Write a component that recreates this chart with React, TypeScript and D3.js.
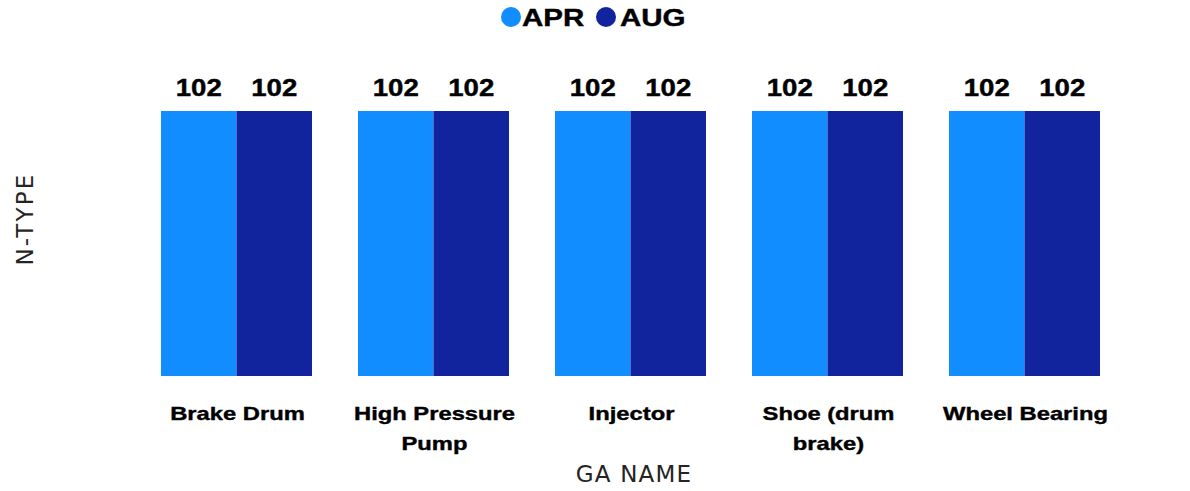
import React from 'react';
import * as d3 from 'd3';

const categories = ['Brake Drum', 'High Pressure Pump', 'Injector', 'Shoe (drum brake)', 'Wheel Bearing'];
const categoryLines = [['Brake Drum'], ['High Pressure', 'Pump'], ['Injector'], ['Shoe (drum', 'brake)'], ['Wheel Bearing']];
const series = ['APR', 'AUG'];
const aprValues = [102, 102, 102, 102, 102];
const augValues = [102, 102, 102, 102, 102];
const colors = ['#118DFF', '#12239E'];

const width = 1190;
const height = 491;
const boldFont = '"Liberation Sans", Arial, sans-serif';

// wide bold text: the original renders a stretched heavy face
const Wide: React.FC<{ x: number; y: number; size: number; sx?: number; anchor?: string; children: React.ReactNode }> =
    ({ x, y, size, sx = 1.23, anchor = 'middle', children }) => (
        <text transform={`translate(${x},${y}) scale(${sx},1)`} textAnchor={anchor}
            fontFamily={boldFont} fontWeight="bold" fontSize={size} fill="#000"
            stroke="#000" strokeWidth={0.4}>{children}</text>
    );

const App: React.FC = () => {
    const x = d3.scaleBand<string>()
        .domain(categories)
        .range([138, 1123])
        .paddingInner(0.2335)
        .paddingOuter(0.11675);

    const xSub = d3.scaleBand<string>()
        .domain(series)
        .range([0, x.bandwidth()]);

    const y = d3.scaleLinear()
        .domain([0, 102])
        .range([376, 111]);

    const valueSets = [aprValues, augValues];

    return (
        <svg width={width} height={height} style={{ position: 'absolute', left: 0, top: 0, background: '#fff' }}>
            {/* legend */}
            <g>
                <circle cx={511} cy={17} r={10} fill={colors[0]} />
                <Wide x={522} y={26} size={24} anchor="start">APR</Wide>
                <circle cx={606} cy={17} r={10} fill={colors[1]} />
                <Wide x={620} y={26} size={24} anchor="start">AUG</Wide>
            </g>

            {categories.map((c, i) => (
                <g key={c} transform={`translate(${x(c)},0)`}>
                    {series.map((s, j) => {
                        const v = valueSets[j][i];
                        const bx = xSub(s) as number;
                        return (
                            <g key={s}>
                                <rect x={bx} y={y(v)} width={xSub.bandwidth()} height={y(0) - y(v)} fill={colors[j]} />
                                <Wide x={bx + xSub.bandwidth() / 2} y={y(v) - 15} size={24} sx={1.15}>{v}</Wide>
                            </g>
                        );
                    })}
                    {categoryLines[i].map((line, k) => (
                        <Wide key={k} x={x.bandwidth() / 2 + 1} y={420 + k * 30} size={19} sx={1.25}>{line}</Wide>
                    ))}
                </g>
            ))}

            {/* axis titles */}
            <text transform="translate(33,219) rotate(-90)" textAnchor="middle" fontFamily='"DejaVu Sans", sans-serif'
                fontSize={23} letterSpacing={2.2} fill="#252423">N-TYPE</text>
            <text x={634} y={482} textAnchor="middle" fontFamily='"DejaVu Sans", sans-serif' fontSize={23}
                letterSpacing={1.2} fill="#252423">GA NAME</text>
        </svg>
    );
};

export default App;
